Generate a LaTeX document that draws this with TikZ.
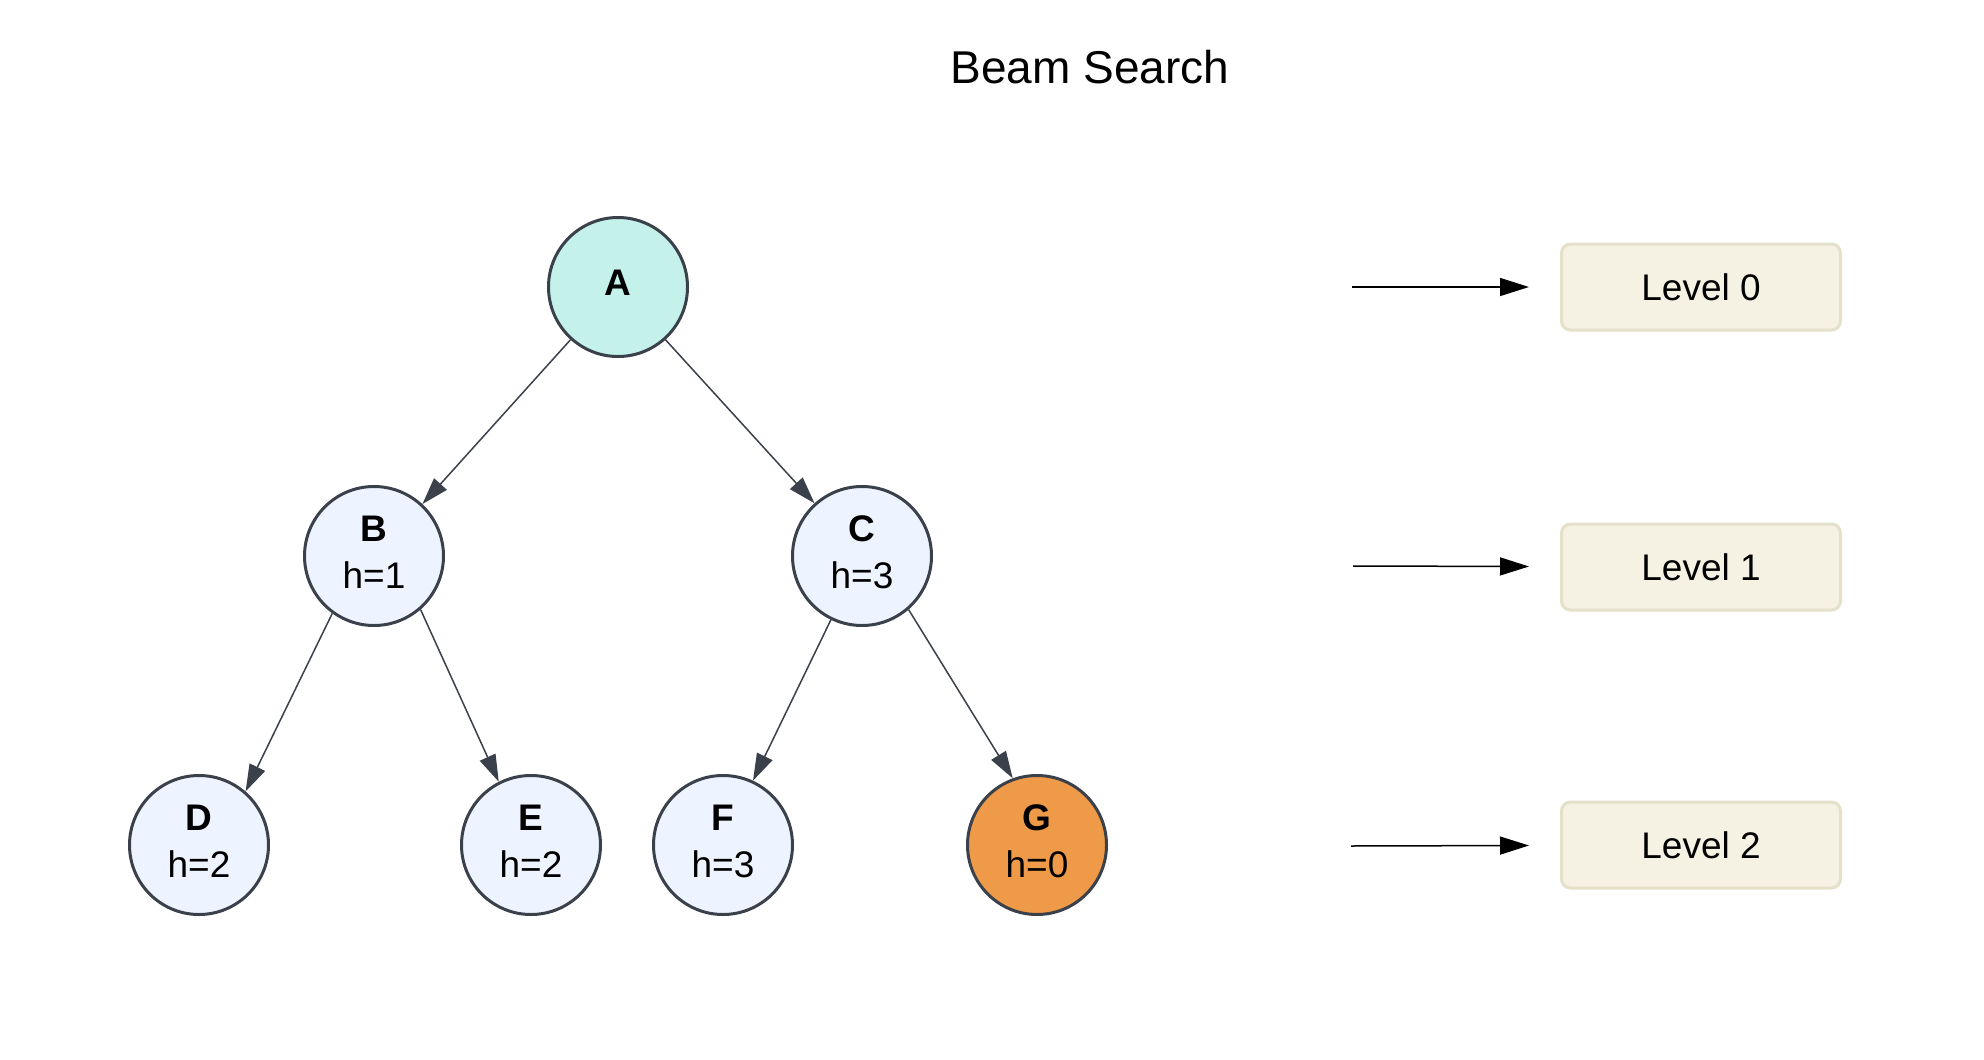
\documentclass[tikz,border=0pt]{standalone}
\usepackage{fontspec}
\setmainfont{Liberation Sans}
\usetikzlibrary{arrows.meta}

\definecolor{edgegray}{HTML}{3A414A}
\definecolor{rootfill}{HTML}{C4F2EB}
\definecolor{nodefill}{HTML}{EDF4FF}
\definecolor{goalfill}{HTML}{EE9A48}
\definecolor{levelfill}{HTML}{F5F2E4}
\definecolor{leveldraw}{HTML}{E4E0C9}

\begin{document}
\begin{tikzpicture}[x=1pt,y=-1pt,
    state/.style={circle,draw=edgegray,line width=3pt,fill=nodefill,minimum size=139pt,inner sep=0pt,align=center,text depth=8pt,font=\fontsize{37}{47}\selectfont},
    levelbox/.style={rounded corners=9pt,draw=leveldraw,line width=3pt,fill=levelfill,minimum width=279pt,minimum height=86pt,font=\fontsize{37}{44}\selectfont},
    treeedge/.style={edgegray,line width=1.5pt,-{Triangle[length=27pt,width=17pt]}},
    levelarrow/.style={black,line width=1.5pt,-{Triangle[length=29pt,width=18pt]},shorten >=31pt}]
        \useasboundingbox (0,0) rectangle (1984,1060);
        \node[font=\fontsize{46}{55}\selectfont] (title) at (1090,67) {Beam Search};
        % tree
        \node[state,fill=rootfill] (A) at (618,287) {\textbf{A}};
        \node[state] (B) at (374,556) {\textbf{B}\\h=1};
        \node[state] (C) at (862,556) {\textbf{C}\\h=3};
        \node[state] (D) at (199,845) {\textbf{D}\\h=2};
        \node[state] (E) at (531,845) {\textbf{E}\\h=2};
        \node[state] (F) at (723,845) {\textbf{F}\\h=3};
        \node[state,fill=goalfill] (G) at (1037,845) {\textbf{G}\\h=0};
        \draw[treeedge] (A.228) -- (B.47);
        \draw[treeedge] (A.312) -- (C.132);
        \draw[treeedge] (B.234) -- (D.49);
        \draw[treeedge] (B.311) -- (E.117);
        \draw[treeedge] (C.244) -- (F.65);
        \draw[treeedge] (C.311) -- (G.110);
        % levels
        \node[levelbox] (lv0) at (1701,287) {Level 0};
        \node[levelbox] (lv1) at (1701,567) {Level 1};
        \node[levelbox] (lv2) at (1701,845) {Level 2};
        \coordinate (s0) at (1352,287);
        \coordinate (s1) at (1353,566);
        \coordinate (s2) at (1351,846);
        \draw[levelarrow] (s0) -- (lv0);
        \draw[levelarrow] (s1) -- (lv1);
        \draw[levelarrow] (s2) -- (lv2);
    \end{tikzpicture}
\end{document}
